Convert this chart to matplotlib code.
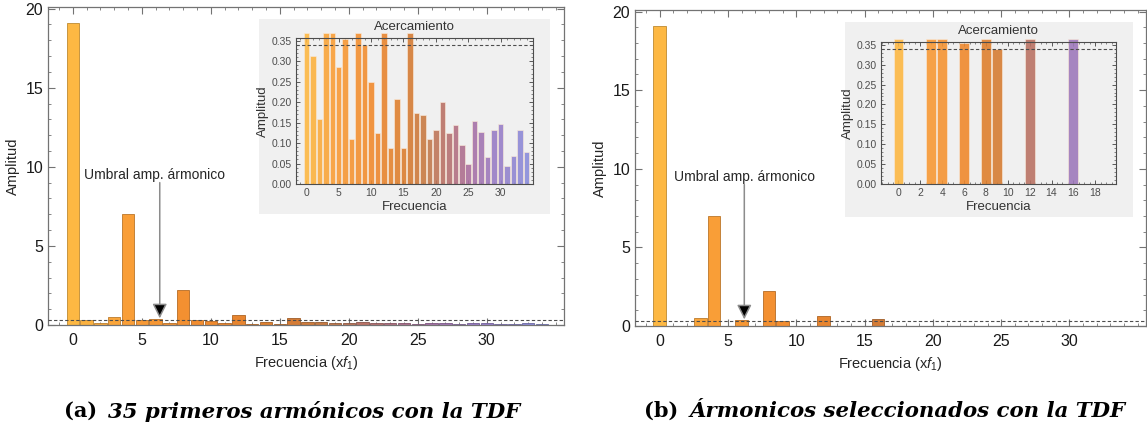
import numpy as np
import matplotlib
matplotlib.use("Agg")
import matplotlib.pyplot as plt
from matplotlib.colors import LinearSegmentedColormap
from matplotlib.ticker import MultipleLocator, FixedLocator, FormatStrFormatter

plt.rcParams['font.family'] = ['Liberation Sans', 'DejaVu Sans']
plt.rcParams['mathtext.fontset'] = 'custom'
plt.rcParams['mathtext.it'] = 'Liberation Sans:italic'
plt.rcParams['mathtext.rm'] = 'Liberation Sans'

# amplitudes of the first 35 harmonics (DFT)
freqs = np.arange(35)
amps = [19.1, 0.314, 0.158, 0.50, 7.0, 0.285, 0.355, 0.109, 2.2, 0.34,
        0.249, 0.124, 0.65, 0.087, 0.207, 0.087, 0.45, 0.173, 0.169, 0.111,
        0.132, 0.201, 0.124, 0.144, 0.096, 0.049, 0.155, 0.126, 0.065, 0.132,
        0.147, 0.045, 0.069, 0.132, 0.079]
threshold = 0.34

# harmonics kept after thresholding
sel_freqs = [0, 3, 4, 6, 8, 9, 12, 16]
sel_amps = [19.1, 0.50, 7.0, 0.355, 2.2, 0.34, 0.65, 0.45]

main_xticks = [0, 5, 10, 15, 20, 25, 30]

captions = [("(a)", "35 primeros armónicos con la TDF"),
            ("(b)", "Ármonicos seleccionados con la TDF")]

cmap = LinearSegmentedColormap.from_list("sun", [
    (0.00, "#FDB843"), (0.12, "#F99D37"), (0.30, "#F0892E"),
    (0.45, "#D97D30"), (0.55, "#C47A48"), (0.63, "#B8716A"),
    (0.74, "#AA6FA0"), (0.85, "#9A7CC4"), (1.00, "#8A8CDA")])

W, H = 1147, 434
fig = plt.figure(figsize=(W / 100, H / 100), dpi=100)


def box(x0, y0, x1, y1):
    return [x0 / W, 1 - y1 / H, (x1 - x0) / W, (y1 - y0) / H]


def darker(c, f=0.75):
    r, g, b, a = c
    return (r * f, g * f, b * f, 1)


def style_main(ax):
    ax.set_xlim(-1.8, 35.6)
    ax.set_ylim(0, 20.1)
    ax.xaxis.set_major_locator(FixedLocator(main_xticks))
    ax.xaxis.set_minor_locator(MultipleLocator(1))
    ax.yaxis.set_major_locator(MultipleLocator(5))
    ax.yaxis.set_minor_locator(MultipleLocator(1))
    ax.tick_params(which='both', direction='in', top=True, right=True,
                   color='0.45', labelsize=11.5, labelcolor='0.1')
    ax.tick_params(which='major', length=5, width=0.8)
    ax.tick_params(which='minor', length=2.5, width=0.6)
    ax.tick_params(axis='x', pad=6)
    for s in ax.spines.values():
        s.set_color('0.45')
        s.set_linewidth(0.9)
    ax.set_xlabel(r'Frecuencia (x$f_1$)', fontsize=10.5, color='0.15')
    ax.set_ylabel('Amplitud', fontsize=10.5, color='0.15', labelpad=4)
    ax.axhline(threshold, color='0.3', lw=0.8, ls=(0, (3, 2)), zorder=3)


def style_inset(ax, xmax, xticks, xminor):
    ax.set_facecolor('#F0F0F0')
    ax.set_xlim(-1.6, xmax)
    ax.set_ylim(0, 0.357)
    ax.xaxis.set_major_locator(FixedLocator(xticks))
    ax.xaxis.set_minor_locator(MultipleLocator(xminor))
    ax.yaxis.set_major_locator(MultipleLocator(0.05))
    ax.yaxis.set_minor_locator(MultipleLocator(0.01))
    ax.yaxis.set_major_formatter(FormatStrFormatter('%.2f'))
    ax.tick_params(which='both', direction='in', top=True, right=True,
                   color='0.35', labelsize=7.5, labelcolor='0.3', pad=3)
    ax.tick_params(which='major', length=3, width=0.7)
    ax.tick_params(which='minor', length=1.5, width=0.5)
    for s in ax.spines.values():
        s.set_color('0.3')
        s.set_linewidth(0.8)
    ax.set_title('Acercamiento', fontsize=9.5, color='0.2', pad=6)
    ax.set_xlabel('Frecuencia', fontsize=9.5, color='0.2', labelpad=2)
    ax.set_ylabel('Amplitud', fontsize=9.5, color='0.2', labelpad=2)
    ax.axhline(threshold, color='0.3', lw=0.8, ls=(0, (3, 2)), zorder=3)


def annotate_threshold(ax, x, xt):
    ax.text(xt, 9.5, 'Umbral amp. ármonico', ha='center', va='center',
            fontsize=10, color='0.15')
    ann = ax.annotate('', xy=(x, 0.42), xytext=(x, 9.0),
                      arrowprops=dict(arrowstyle='-|>', color='0.55', lw=1.1,
                                      mutation_scale=22, shrinkA=0, shrinkB=0))
    ann.arrow_patch.set_facecolor('black')


def inset_background(x0, y0, x1, y1):
    bg = fig.add_axes(box(x0, y0, x1, y1), zorder=2)
    bg.set_facecolor('#F0F0F0')
    bg.set_xticks([])
    bg.set_yticks([])
    for s in bg.spines.values():
        s.set_visible(False)


main_colors = [cmap(f / 34) for f in freqs]

# (a) all harmonics
ax1 = fig.add_axes(box(48, 7, 564, 325))
ax1.bar(freqs, amps, width=0.9, color=main_colors,
        edgecolor=[darker(c) for c in main_colors], linewidth=0.6, zorder=2)
style_main(ax1)
annotate_threshold(ax1, 6.3, 5.95)

inset_background(259, 19, 550, 214)
in1 = fig.add_axes(box(296, 38, 533, 184), zorder=3)
in1.bar(freqs, np.minimum(amps, 0.37), width=0.85, color=main_colors,
        alpha=0.9, edgecolor='#F8E8D8', linewidth=0.5, clip_on=False, zorder=2)
style_inset(in1, 35.0, main_xticks, 1)

# (b) selected harmonics
ax2 = fig.add_axes(box(635, 10, 1146, 326))
sel_main_colors = [cmap(f / 34) for f in sel_freqs]
ax2.bar(sel_freqs, sel_amps, width=0.9, color=sel_main_colors,
        edgecolor=[darker(c) for c in sel_main_colors], linewidth=0.6, zorder=2)
style_main(ax2)
annotate_threshold(ax2, 6.2, 6.2)

inset_background(845, 22, 1133, 217)
in2 = fig.add_axes(box(881, 42, 1116, 184), zorder=3)
sel_in_colors = [cmap(f / 19.5) for f in sel_freqs]
in2.bar(sel_freqs, np.minimum(sel_amps, 0.365), width=0.9, color=sel_in_colors,
        alpha=0.9, edgecolor='#F8E8D8', linewidth=0.5, clip_on=False, zorder=2)
style_inset(in2, 19.9, list(range(0, 19, 2)), 0.5)

# sub-figure captions
for (tag, txt), (xa, xb) in zip(captions, [(64, 108), (644, 690)]):
    fig.text(xa / W, 1 - 411 / H, tag, fontsize=15, fontweight='bold',
             family='DejaVu Serif', va='center')
    fig.text(xb / W, 1 - 411 / H, txt, fontsize=15.3, fontweight='bold',
             style='italic', family='DejaVu Serif', va='center')

fig.savefig('out.png', dpi=100)
